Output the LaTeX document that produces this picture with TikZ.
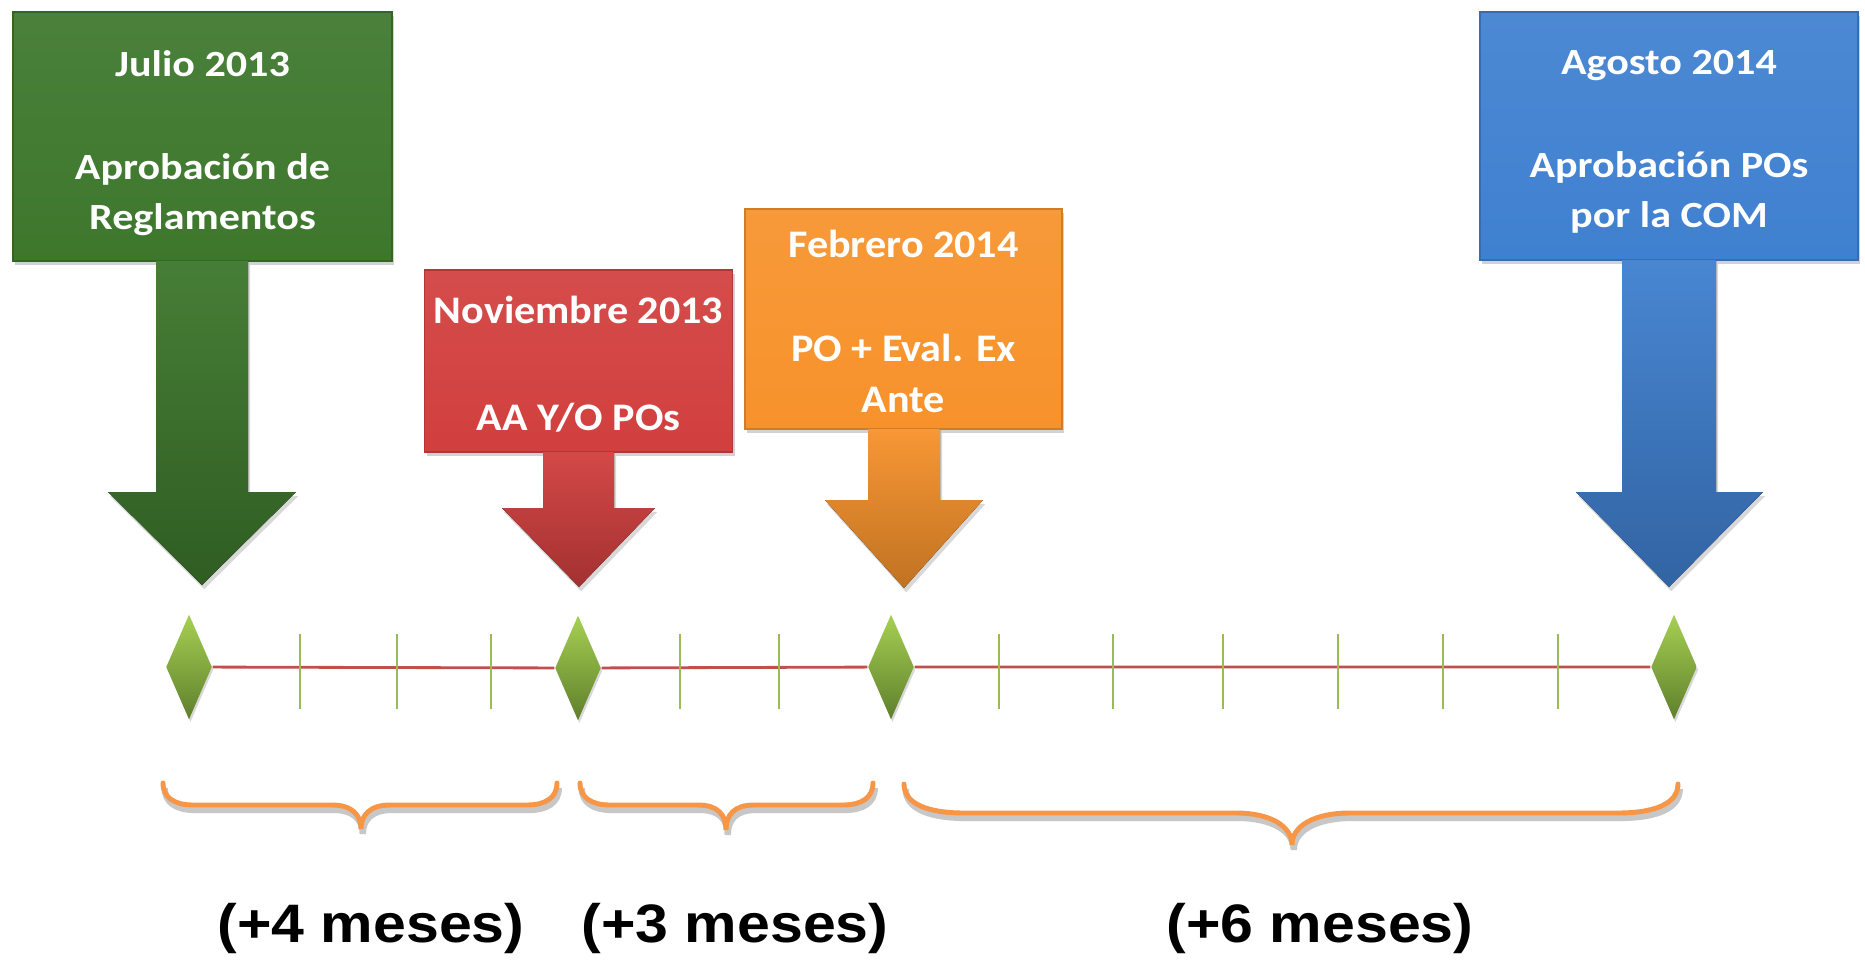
\documentclass[tikz,border=0pt]{standalone}
\usepackage{fontspec}
\usepackage{tikz}
\usetikzlibrary{shapes.geometric,shadows}
\usepackage{xcolor}

\newfontfamily\boxfont{Carlito}[FakeStretch=1.14]
\newfontfamily\midfont{Carlito}[FakeStretch=1.08]
\newfontfamily\labelfont{Liberation Sans}[FakeStretch=1.09]

\definecolor{julgreen}{HTML}{3D772C}
\definecolor{novred}{HTML}{D13F3E}
\definecolor{feborange}{HTML}{F7922B}
\definecolor{agoblue}{HTML}{3F80D0}
\definecolor{mslight}{HTML}{A6D052}
\definecolor{msdark}{HTML}{5F7F2C}
\definecolor{tickgreen}{HTML}{9BBB59}
\definecolor{linered}{HTML}{C0504D}
\definecolor{braceorange}{HTML}{F79646}

\tikzset{
  callbox/.style={top color=#1!93!white, bottom color=#1, draw=#1!85!black, line width=0.4pt,
    inner sep=0pt, drop shadow={opacity=0.35, shadow xshift=0.6pt, shadow yshift=-1.2pt}},
  boxtext/.style={text=white, align=center, inner sep=0pt},
  callarrow/.style={top color=#1!95!white, bottom color=#1!78!black,
    drop shadow={opacity=0.3, shadow xshift=0.6pt, shadow yshift=-1.2pt}},
  milestone/.style={diamond, minimum width=0.46cm, minimum height=1.05cm, inner sep=0pt,
    top color=mslight, bottom color=msdark,
    drop shadow={opacity=0.3, shadow xshift=0.4pt, shadow yshift=-0.8pt}},
  monthtick/.style={draw=tickgreen, line width=0.6pt},
  timebrace/.style={draw=braceorange, line width=1.4pt, line cap=round,
    preaction={draw=black!22, line width=1.8pt, transform canvas={xshift=0.5pt, yshift=-1.4pt}}},
  widefont/.style={font=\boxfont\bfseries\fontsize{10.5}{14.2}\selectfont},
  midsize/.style={font=\midfont\bfseries\fontsize{11.1}{14.5}\selectfont},
  gaplabel/.style={anchor=base, font=\labelfont\bfseries\fontsize{15.4}{18}\selectfont}
}

\begin{document}
\begin{tikzpicture}[x=0.01cm, y=-0.01cm]
    \useasboundingbox (0,0) rectangle (1865,966);
    \fill[white] (0,0) rectangle (1865,966);

    % Four milestones
    \node[callbox=julgreen, minimum width=3.79cm, minimum height=2.49cm] (jul) at (202.5,136.5) {};
    \node[boxtext, widefont] (jultext) at (202.5,143) {
        Julio 2013\\[15pt]
        Aprobación de\\
        Reglamentos
    };
    \fill[callarrow=julgreen] (156,261) -- (156,492) -- (108,492) -- (202,585) -- (296,492) -- (248,492) -- (248,261) -- cycle;

    \node[callbox=novred, minimum width=3.08cm, minimum height=1.82cm] (nov) at (578.5,361) {};
    \node[boxtext, midsize] (novtext) at (578.5,364) {
        Noviembre 2013\\[15.8pt]
        AA Y/O POs
    };
    \fill[callarrow=novred] (543,452) -- (543,508) -- (502,508) -- (579,587) -- (655,508) -- (614,508) -- (614,452) -- cycle;

    \node[callbox=feborange, minimum width=3.17cm, minimum height=2.2cm] (feb) at (903.5,319) {};
    \node[boxtext, midsize] (febtext) at (903.5,321) {
        Febrero 2014\\[15.1pt]
        PO + Eval. Ex\\
        Ante
    };
    \fill[callarrow=feborange] (868,429) -- (868,500) -- (825,500) -- (904,588) -- (983,500) -- (940,500) -- (940,429) -- cycle;

    \node[callbox=agoblue, minimum width=3.78cm, minimum height=2.48cm] (ago) at (1669,136) {};
    \node[boxtext, widefont] (agotext) at (1669,142) {
        Agosto 2014\\[15pt]
        Aprobación POs\\
        por la COM
    };
    \fill[callarrow=agoblue] (1622,260) -- (1622,492) -- (1576,492) -- (1669,587) -- (1763,492) -- (1716,492) -- (1716,260) -- cycle;

    % Timeline
    \node[milestone] (d1) at (189,667) {};
    \node[milestone] (d2) at (578,668) {};
    \node[milestone] (d3) at (891,667) {};
    \node[milestone] (d4) at (1674,667) {};
    \draw[linered, line width=0.8pt] (d1) -- (d2) (d2) -- (d3) (d3) -- (d4);
    \foreach \x in {300,397,491,680,779,999,1113,1223,1338,1443,1558}
        \draw[monthtick] (\x,634) -- (\x,709);

    % Braces
    \draw[timebrace] (163,783) .. controls (163,798) and (175,805) .. (193,805) -- (332,805)
        .. controls (352,805) and (361,815) .. (361,829) .. controls (361,815) and (370,805) .. (390,805)
        -- (527,805) .. controls (545,805) and (557,798) .. (557,783);
    \draw[timebrace] (580,783) .. controls (580,798) and (592,805) .. (610,805) -- (698,805)
        .. controls (718,805) and (726,815) .. (726,830) .. controls (726,815) and (734,805) .. (754,805)
        -- (843,805) .. controls (861,805) and (873,798) .. (873,783);
    \draw[timebrace] (904,784) .. controls (904,804) and (928,813) .. (964,813) -- (1236,813)
        .. controls (1270,813) and (1292,826) .. (1292,845) .. controls (1292,826) and (1314,813) .. (1350,813)
        -- (1618,813) .. controls (1654,813) and (1678,804) .. (1678,784);

    % Durations
    \node[gaplabel] (g1) at (371,942) {(+4 meses)};
    \node[gaplabel] (g2) at (735,942) {(+3 meses)};
    \node[gaplabel] (g3) at (1320,942) {(+6 meses)};
\end{tikzpicture}
\end{document}
